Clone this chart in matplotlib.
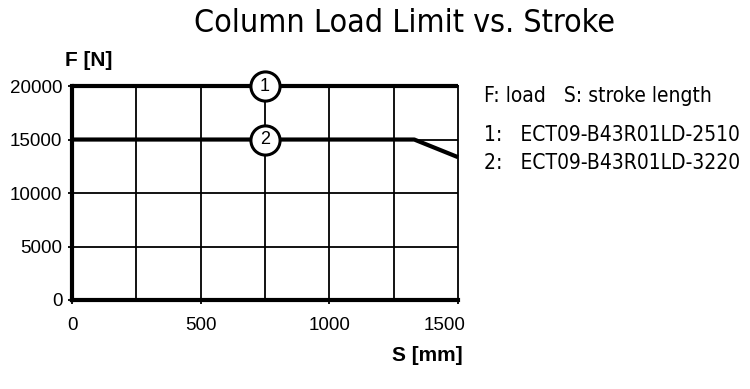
import matplotlib
matplotlib.use("Agg")
import matplotlib.pyplot as plt
from matplotlib.transforms import ScaledTranslation

# Data
stroke_1 = [0, 1500]
load_1 = [20000, 20000]
stroke_2 = [0, 1330, 1500]
load_2 = [15000, 15000, 13350]
label_positions = [750, 750]
label_values = [20000, 15000]
label_texts = ["1", "2"]
x_ticks = [0, 500, 1000, 1500]
y_ticks = [0, 5000, 10000, 15000, 20000]
x_grid = [250, 500, 750, 1000, 1250]
y_grid = [5000, 10000, 15000]
legend_lines = ["F: load   S: stroke length",
                "1:   ECT09-B43R01LD-2510",
                "2:   ECT09-B43R01LD-3220"]

cond = dict(family="DejaVu Sans", fontstretch="condensed")

fig = plt.figure(figsize=(7.5, 3.89), dpi=100)
ax = fig.add_axes([0.096, 0.2288, 0.5147, 0.550])
ax.set_xlim(0, 1500)
ax.set_ylim(0, 20000)

for gx in x_grid:
    ax.axvline(gx, color="black", lw=1.3, zorder=1)
for gy in y_grid:
    ax.axhline(gy, color="black", lw=1.3, zorder=1)

ax.plot(stroke_1, load_1, color="black", lw=3, zorder=3, clip_on=False, solid_capstyle="butt")
ax.plot(stroke_2, load_2, color="black", lw=3, zorder=3, clip_on=False, solid_capstyle="butt")

for xp, yp, t in zip(label_positions, label_values, label_texts):
    ax.plot(xp, yp, marker="o", ms=21, mfc="white", mec="black", mew=2.2, zorder=5, clip_on=False)
    ax.text(xp, yp, t, ha="center", va="center", fontsize=13, family="Liberation Sans", zorder=6)

for s in ["left", "bottom"]:
    ax.spines[s].set_linewidth(3)
ax.spines["top"].set_linewidth(1.3)
ax.spines["right"].set_linewidth(1.3)

ax.set_xticks(x_ticks)
ax.set_yticks(y_ticks)
ax.set_xticklabels([str(v) for v in x_ticks], family="Liberation Sans", fontsize=13.5)
ax.set_yticklabels([str(v) for v in y_ticks], family="Liberation Sans", fontsize=13.5)
ax.tick_params(axis="both", length=3, width=1.3, direction="out")
ax.tick_params(axis="x", pad=9)
ax.tick_params(axis="y", pad=4)
last = ax.get_xticklabels()[-1]
last.set_transform(last.get_transform() + ScaledTranslation(-0.13, 0, fig.dpi_scale_trans))

fig.text(0.087, 0.845, "F [N]", family="Liberation Sans", fontweight="bold", fontsize=15,
         ha="left", va="center")
fig.text(0.617, 0.087, "S [mm]", family="Liberation Sans", fontweight="bold", fontsize=15,
         ha="right", va="center")

fig.text(0.54, 0.94, "Column Load Limit vs. Stroke", ha="center", va="center", fontsize=23, **cond)

ys = [0.752, 0.652, 0.58]
for y, t in zip(ys, legend_lines):
    fig.text(0.645, y, t, ha="left", va="center", fontsize=15, **cond)

fig.savefig("out.png", dpi=100)
